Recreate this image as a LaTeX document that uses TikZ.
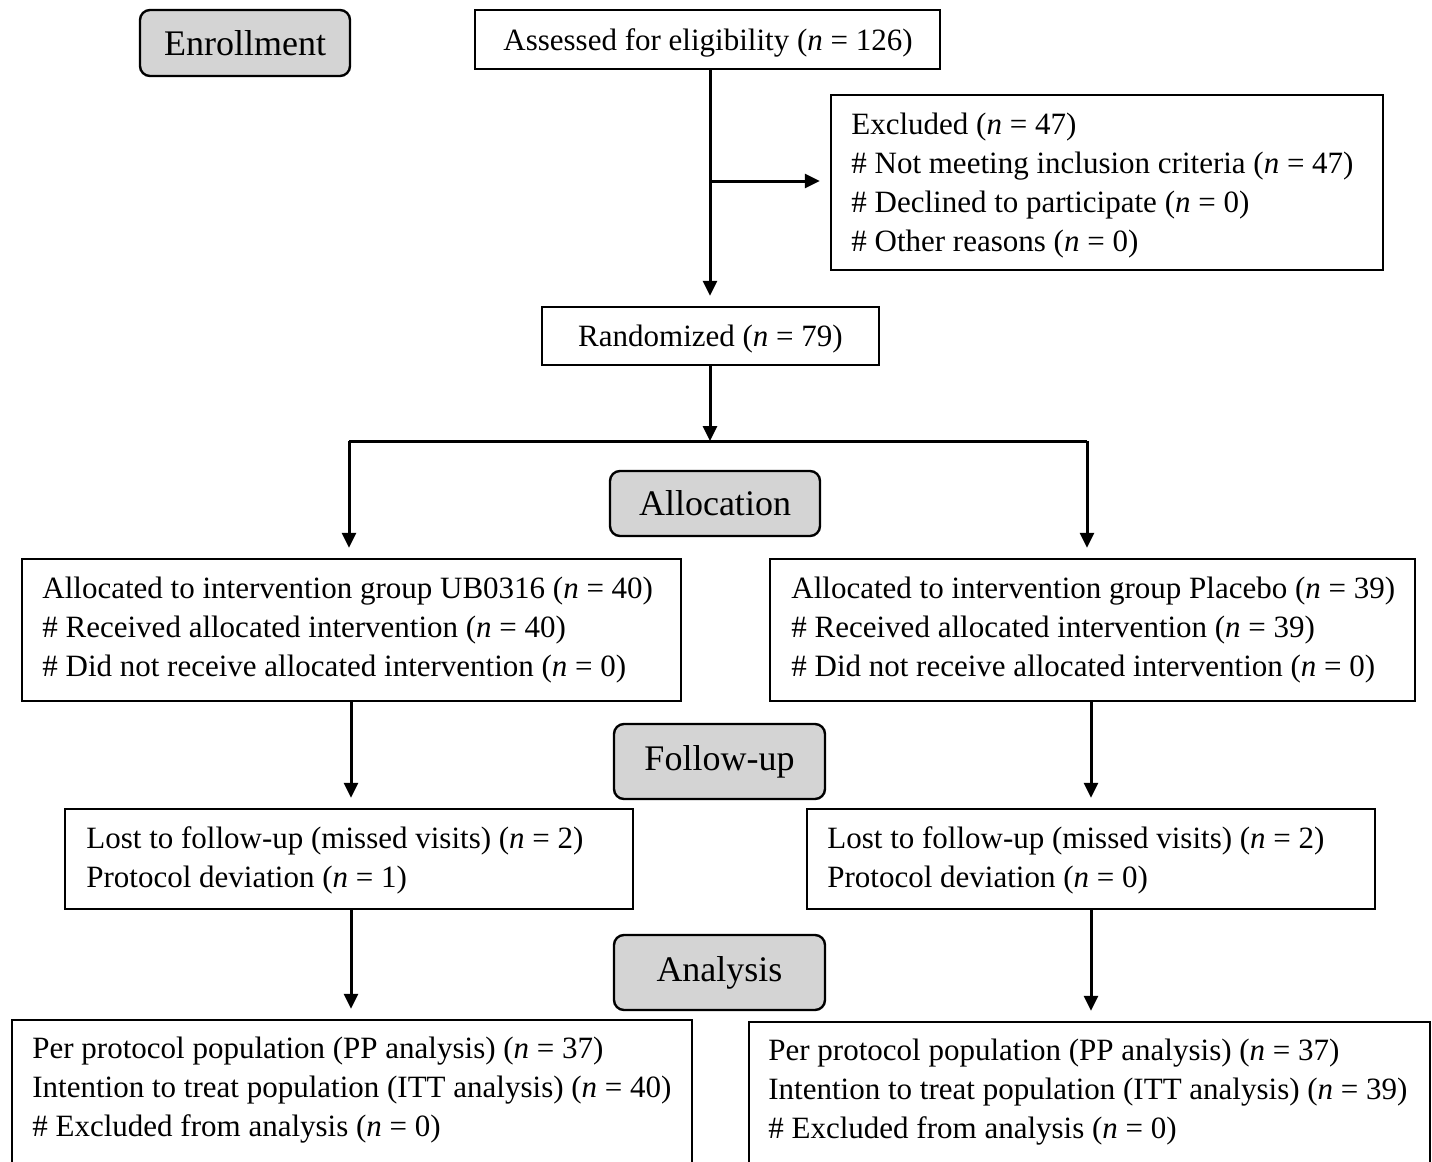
\documentclass[tikz,border=0pt]{standalone}
\usepackage{fontspec}
\setmainfont{Liberation Serif}
\usetikzlibrary{arrows.meta}
\definecolor{boxgray}{HTML}{D4D4D4}
\begin{document}
\begin{tikzpicture}[x=0.5pt,y=-0.5pt,
  box/.style={draw, line width=1.2pt, inner sep=0pt},
  lbl/.style={draw, line width=1.2pt, rounded corners=5pt, fill=boxgray, inner sep=0pt, font=\fontsize{18}{22}\selectfont},
  txt/.style={align=left, inner sep=0pt, anchor=west, font=\fontsize{15.5}{19.5}\selectfont},
  ctxt/.style={inner sep=0pt, font=\fontsize{15.5}{19.5}\selectfont},
  arr/.style={line width=1.5pt, -{Triangle[length=7.5pt,width=7pt]}, shorten >=5pt},
  ln/.style={line width=1.5pt}]
\useasboundingbox (0,0) rectangle (1432,1162);
\clip (0,0) rectangle (1432,1162);
\fill[white] (0,0) rectangle (1432,1162);
\newcommand{\nn}{\textit{n}}

% phase labels
\node[lbl, minimum width=105pt, minimum height=33pt] (enr) at (245,43) {Enrollment};
\node[lbl, minimum width=105pt, minimum height=32.5pt] (alc) at (715,503.5) {Allocation};
\node[lbl, minimum width=105.5pt, minimum height=37.5pt] (fol) at (719.5,761.5) {Follow-up};
\node[lbl, minimum width=105.5pt, minimum height=37.5pt] (ana) at (719.5,972.5) {Analysis};

% boxes
\node[box, minimum width=232.5pt, minimum height=29.5pt] (assess) at (707.5,39.5) {};
\node[ctxt] (assesst) at (708,42.5) {Assessed for eligibility (\nn{} = 126)};
\node[box, minimum width=276pt, minimum height=87.5pt] (excl) at (1107,182.5) {};
\node[txt] (exclt) at (851,185.5) {Excluded (\nn{} = 47)\\\# Not meeting inclusion criteria (\nn{} = 47)\\\# Declined to participate (\nn{} = 0)\\\# Other reasons (\nn{} = 0)};
\node[box, minimum width=168.5pt, minimum height=29pt] (rand) at (710.5,336) {};
\node[ctxt] (randt) at (710.5,339) {Randomized (\nn{} = 79)};

\node[box, minimum width=329.5pt, minimum height=71pt] (lalloc) at (351.5,630) {};
\node[txt] (lallt) at (42,630) {Allocated to intervention group UB0316 (\nn{} = 40)\\\# Received allocated intervention (\nn{} = 40)\\\# Did not receive allocated intervention (\nn{} = 0)};
\node[box, minimum width=322.5pt, minimum height=71pt] (ralloc) at (1092.5,630) {};
\node[txt] (rallt) at (791,630) {Allocated to intervention group Placebo (\nn{} = 39)\\\# Received allocated intervention (\nn{} = 39)\\\# Did not receive allocated intervention (\nn{} = 0)};

\node[box, minimum width=284pt, minimum height=50pt] (llost) at (349,859) {};
\node[txt] (llostt) at (86,860.5) {Lost to follow-up (missed visits) (\nn{} = 2)\\Protocol deviation (\nn{} = 1)};
\node[box, minimum width=284pt, minimum height=50pt] (rlost) at (1091,859) {};
\node[txt] (rlostt) at (827,860.5) {Lost to follow-up (missed visits) (\nn{} = 2)\\Protocol deviation (\nn{} = 0)};

\node[box, minimum width=340pt, minimum height=85pt] (lana) at (352,1105) {};
\node[txt] (lanat) at (32,1090) {Per protocol population (PP analysis) (\nn{} = 37)\\Intention to treat population (ITT analysis) (\nn{} = 40)\\\# Excluded from analysis (\nn{} = 0)};
\node[box, minimum width=340.5pt, minimum height=84pt] (rana) at (1089.5,1106) {};
\node[txt] (ranat) at (768,1092) {Per protocol population (PP analysis) (\nn{} = 37)\\Intention to treat population (ITT analysis) (\nn{} = 39)\\\# Excluded from analysis (\nn{} = 0)};

% connectors
\coordinate (top) at (710,69);
\coordinate (br) at (710,181);
\draw[arr] (top) -- (top |- rand.north);
\draw[arr] (br) -- (br -| excl.west);
\coordinate (split) at (710,441);
\coordinate (sl) at (349,441);
\coordinate (sr) at (1087,441);
\draw[arr, shorten >=0pt] (rand.south -| split) -- (split);
\draw[ln] (sl) -- (sr);
\draw[arr] (sl) -- (sl |- lalloc.north);
\draw[arr] (sr) -- (sr |- ralloc.north);
\coordinate (l2) at (351,701);
\coordinate (r2) at (1091,701);
\draw[arr] (l2) -- (l2 |- llost.north);
\draw[arr] (r2) -- (r2 |- rlost.north);
\coordinate (l3) at (351,909);
\coordinate (r3) at (1091,909);
\draw[arr] (l3) -- (l3 |- lana.north);
\draw[arr] (r3) -- (r3 |- rana.north);
\end{tikzpicture}
\end{document}
